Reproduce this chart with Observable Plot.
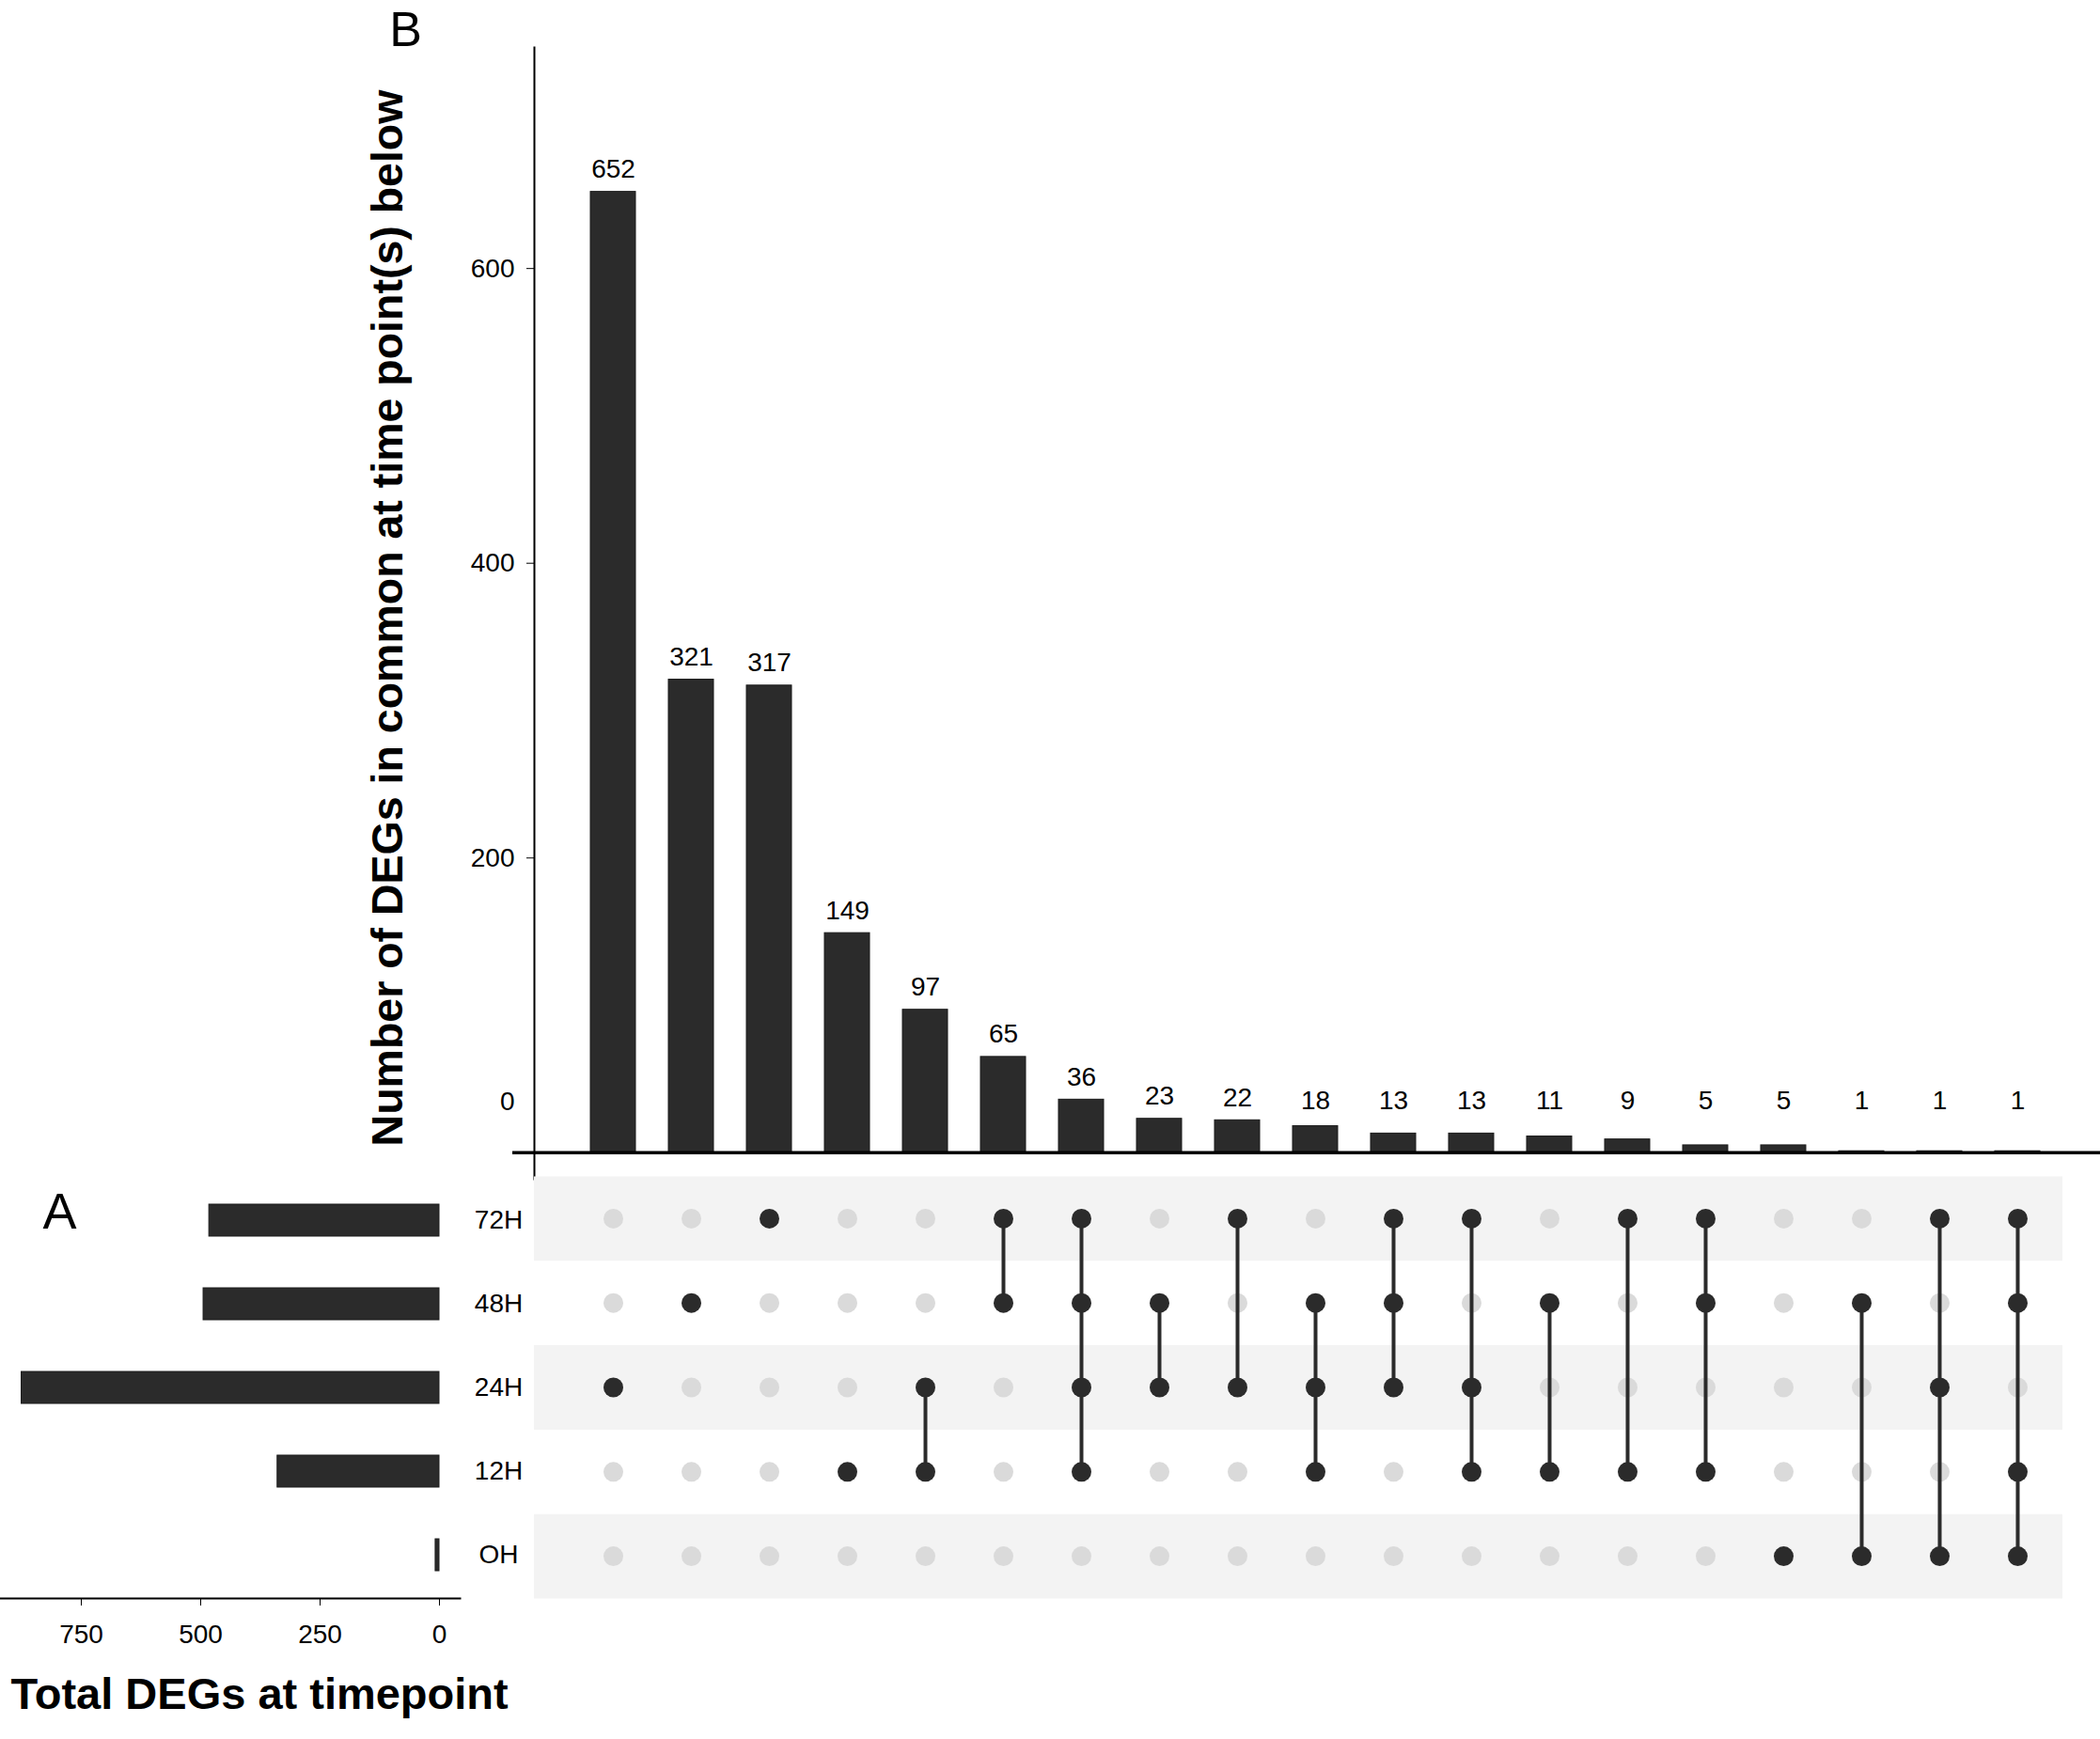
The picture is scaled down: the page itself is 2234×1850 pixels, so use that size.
<!DOCTYPE html>
<html>
<head>
<meta charset="utf-8">
<script src="https://cdn.jsdelivr.net/npm/d3@7"></script>
<script src="https://cdn.jsdelivr.net/npm/@observablehq/plot@0.6"></script>
<style>
html, body { margin: 0; padding: 0; background: #fff; overflow: hidden; }
#chart { position: relative; width: 2234px; height: 1850px; overflow: hidden; background: #fff; }
#chart svg { position: absolute; background: transparent; max-width: none; }
</style>
</head>
<body>
<div id="chart"></div>
<script>
// ---- data ----
const timepoints = ["72H", "48H", "24H", "12H", "OH"];
const setSizes = [482, 494, 875, 339, 8];
const intersectionMembers = [
  ["24H"], ["48H"], ["72H"], ["12H"], ["24H", "12H"], ["72H", "48H"],
  ["72H", "48H", "24H", "12H"], ["48H", "24H"], ["72H", "24H"], ["48H", "24H", "12H"],
  ["72H", "48H", "24H"], ["72H", "24H", "12H"], ["48H", "12H"], ["72H", "12H"],
  ["72H", "48H", "12H"], ["OH"], ["48H", "OH"], ["72H", "24H", "OH"], ["72H", "48H", "12H", "OH"]
];
const intersectionCounts = [652, 321, 317, 149, 97, 65, 36, 23, 22, 18, 13, 13, 11, 9, 5, 5, 1, 1, 1];
const countTicks = [0, 200, 400, 600];
const sizeTicks = [0, 250, 500, 750];
const yTitle = "Number of DEGs in common at time point(s) below";
const xTitle = "Total DEGs at timepoint";

// ---- styles ----
const font = '"Liberation Sans", Arial, Helvetica, sans-serif';
const dark = "#2b2b2b";
const baseStyle = {fontFamily: font, fontSize: "28px", color: "#000", background: "transparent"};

const inter = intersectionMembers.map((m, i) => ({key: m.join("&"), members: m, count: intersectionCounts[i]}));
const keys = inter.map(d => d.key);
const xScale = () => ({type: "band", domain: keys, range: [591, 2207], padding: 0.42, axis: null});

const chart = document.getElementById("chart");

// ---- top: intersection sizes ----
const topPlot = Plot.plot({
  width: 2234, height: 1260,
  marginLeft: 568, marginRight: 0, marginTop: 50, marginBottom: 6,
  style: baseStyle,
  x: xScale(),
  y: {domain: [-18, 750], axis: null},
  marks: [
    Plot.barY(inter, {x: "key", y1: 0, y2: "count", fill: dark, stroke: "#1c1c1c", strokeWidth: 1}),
    Plot.ruleY([0], {stroke: "#000", strokeWidth: 3.5, insetLeft: -23}),
    Plot.frame({anchor: "left", stroke: "#000", strokeWidth: 2}),
    Plot.axisY({ticks: countTicks.filter(d => d !== 0), tickSize: 8, tickPadding: 13, tickFormat: d => String(d), fontSize: 28, label: null}),
    Plot.text(countTicks.filter(d => d === 0), {y: d => d, text: d => String(d), frameAnchor: "left", dx: -21, dy: -54, textAnchor: "end", fontSize: 28}),
    Plot.text(inter, {x: "key", y: d => Math.max(d.count, 20), text: d => String(d.count), dy: -24, fontSize: 28, fill: "#000"}),
    Plot.text([yTitle], {frameAnchor: "left", dx: -155, dy: 5, rotate: -90, textAnchor: "middle", lineAnchor: "middle", fontWeight: "bold", fontSize: 46.5, fill: "#000"}),
    Plot.text(["B"], {frameAnchor: "top-left", dx: -137, dy: -18, textAnchor: "middle", lineAnchor: "middle", fontSize: 52, fill: "#000"})
  ]
});
topPlot.style.left = "0px"; topPlot.style.top = "0px";
chart.appendChild(topPlot);

// ---- matrix ----
const cells = inter.flatMap(d => timepoints.map((t, j) => ({key: d.key, row: j, on: d.members.includes(t)})));
const links = inter.map(d => {
  const idx = d.members.map(m => timepoints.indexOf(m));
  return {key: d.key, y1: Math.min(...idx), y2: Math.max(...idx)};
}).filter(d => d.y1 !== d.y2);
const shaded = timepoints.map((t, i) => i).filter(i => i % 2 === 0);
const mH = 470, mTop = 11, mBottom = 10;
const rowH = (mH - mTop - mBottom) / timepoints.length;

const matrixPlot = Plot.plot({
  width: 2234, height: mH,
  marginLeft: 568, marginRight: 40, marginTop: mTop, marginBottom: mBottom,
  style: baseStyle,
  x: xScale(),
  y: {domain: [timepoints.length - 0.5, -0.5], axis: null},
  marks: [
    Plot.ruleY(shaded, {y: d => d, stroke: "#f3f3f3", strokeWidth: rowH}),
    Plot.dot(cells.filter(d => !d.on), {x: "key", y: "row", r: 10.5, fill: "#dadada"}),
    Plot.ruleX(links, {x: "key", y1: "y1", y2: "y2", stroke: dark, strokeWidth: 4}),
    Plot.dot(cells.filter(d => d.on), {x: "key", y: "row", r: 10.5, fill: dark})
  ]
});
matrixPlot.style.left = "0px"; matrixPlot.style.top = "1240px";
chart.appendChild(matrixPlot);

// ---- left: set sizes ----
const sizeData = timepoints.map((t, i) => ({t, n: setSizes[i]}));
const leftPlot = Plot.plot({
  width: 568, height: 650,
  marginLeft: 0, marginRight: 79, marginTop: 51, marginBottom: 150,
  style: baseStyle,
  x: {domain: [0, 750], range: [467, 86], axis: null},
  y: {domain: timepoints, paddingInner: 0.62, paddingOuter: 0.31, axis: null},
  marks: [
    Plot.barX(sizeData, {y: "t", x1: 0, x2: "n", fill: dark, stroke: "#1c1c1c", strokeWidth: 1}),
    Plot.frame({anchor: "bottom", stroke: "#000", strokeWidth: 2}),
    Plot.axisX({ticks: sizeTicks, tickSize: 8, tickPadding: 20, tickFormat: d => String(d), fontSize: 28, label: null}),
    Plot.text(timepoints, {y: d => d, text: d => d, frameAnchor: "right", dx: 41, textAnchor: "middle", fontSize: 28, fill: "#000"}),
    Plot.text(["A"], {frameAnchor: "top-left", dx: 63, dy: 38, textAnchor: "middle", lineAnchor: "middle", fontSize: 54, fill: "#000"}),
    Plot.text([xTitle], {frameAnchor: "bottom-left", dx: 11, dy: 102, textAnchor: "start", lineAnchor: "middle", fontWeight: "bold", fontSize: 47, fill: "#000"})
  ]
});
leftPlot.style.left = "0px"; leftPlot.style.top = "1200px";
chart.appendChild(leftPlot);
</script>
</body>
</html>
